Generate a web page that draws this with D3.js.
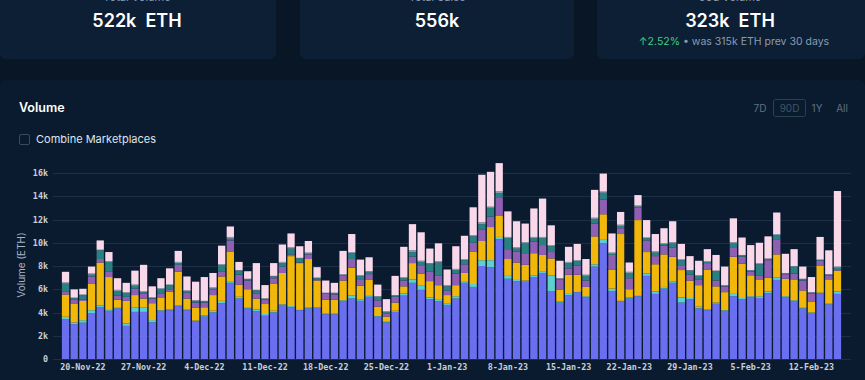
<!DOCTYPE html>
<html>
<head>
<meta charset="utf-8">
<script src="https://cdn.jsdelivr.net/npm/d3@7"></script>
<style>
  html, body { margin: 0; padding: 0; background: #081626; }
  svg { display: block; }
</style>
</head>
<body>
<svg id="chart" width="865" height="380"></svg>
<script>
// ---- data (k ETH per day, stacked bottom to top) ----
const startDate = "2022-11-18";
const dayCount = 90;
const seriesNames = ["Blur", "Sudoswap", "OpenSea", "X2Y2", "LooksRare", "Element", "Other"];
const seriesColors = ["#6a6ff0", "#5ccfd0", "#f1b70a", "#8f5fb3", "#2a7f80", "#8a9bb0", "#f9d8ea"];

const blue = [3.4,3.0,3.12,3.95,4.45,4.15,4.35,2.85,4.05,4.05,3.15,4.15,4.2,4.55,4.2,3.25,3.65,4.0,4.8,6.55,5.2,4.35,4.1,3.72,4.0,4.65,4.45,4.2,4.35,4.4,3.85,3.85,4.95,5.2,5.0,5.35,3.65,3.15,4.05,5.45,6.55,5.95,5.15,4.95,4.65,5.2,6.55,6.2,8.0,7.9,10.3,6.9,6.7,6.65,7.05,7.4,5.85,4.85,5.5,5.75,5.3,7.95,9.95,5.85,4.95,5.2,5.4,7.15,5.6,6.05,6.55,4.85,5.15,4.35,4.2,4.75,4.15,5.4,5.15,5.3,5.25,5.65,6.8,5.3,4.95,4.35,3.95,5.65,4.7,5.6];
const cyan = [0.23,0.15,0.22,0.25,0.15,0.15,0.05,0.2,0.4,0.4,0.2,0.05,0.05,0.05,0.05,0.05,0.1,0.15,0.2,0.15,0.15,0.05,0.15,0.15,0.15,0.05,0.1,0.1,0.1,0.05,0.05,0.05,0.1,0.25,0.1,0.15,0.05,0.05,0.1,0.2,0.3,0.4,0.15,0.2,0.1,0.2,0.15,0.25,0.5,0.6,0.2,0.25,0.1,0.1,0.15,0.1,1.35,0.1,0.1,0.1,0.1,0.2,0.3,0.2,0.05,0.1,0.1,0.2,0.2,0.15,0.1,0.45,0.1,0.15,0.05,0.1,0.05,0.2,0.1,0.1,0.15,0.15,0.2,0.1,0.1,0.05,0.05,0.05,0.1,0.2];
const yellow = [1.92,1.63,1.65,2.3,3.7,2.75,0.7,1.95,1.05,0.75,1.45,1.1,1.55,2.9,0.95,1.1,0.7,1.35,2.1,2.55,1.05,1.6,0.95,0.86,2.35,2.7,4.3,3.95,4.15,2.3,1.2,1.2,1.7,2.4,1.2,1.3,0.8,0.45,0.7,0.6,1.4,1.0,1.4,1.2,0.75,0.95,0.7,2.8,1.65,2.85,1.85,1.45,1.5,1.35,1.9,1.45,1.45,1.0,1.65,1.4,0.8,2.4,2.2,1.65,5.75,0.7,6.45,1.85,2.35,2.8,2.15,2.35,1.5,1.85,3.45,1.4,1.55,3.2,2.95,1.8,1.45,1.2,2.0,1.5,1.8,1.5,0.95,2.35,2.05,1.8];
const purple = [0.23,0.35,0.1,0.6,0.3,0.45,0.35,0.35,0.55,0.4,0.4,0.35,0.15,0.6,0.5,0.45,0.4,0.45,0.4,0.95,0.85,0.75,0.4,0.4,0.45,0.55,0.15,0.05,0.4,0.1,0.5,0.45,0.4,0.75,0.5,0.5,0.55,0.25,0.5,0.5,0.55,0.65,0.8,0.8,0.4,1.0,0.75,0.75,1.0,0.9,1.5,0.85,0.95,1.0,1.0,0.85,0.55,0.85,0.55,0.8,0.55,1.1,1.25,1.25,0.5,0.95,1.05,1.0,0.7,0.75,0.8,0.35,0.5,0.5,0.55,0.5,0.5,0.75,0.6,0.3,0.35,1.5,1.3,0.4,0.5,0.85,0.65,0.4,0.35,0.05];
const teal = [0.7,0.1,0.4,0.15,0.75,0.85,0.4,0.3,0.25,0.15,0.05,0.35,0.4,0.15,0.1,0.15,0.1,0.1,0.55,0.15,0.35,0.1,0.3,0.05,0.15,0.3,0.5,0.35,0.05,0.1,0.05,0.1,0.05,0.5,0.35,0.2,0.3,0.15,0.1,0.2,0.4,0.35,0.7,1.15,0.35,0.3,0.35,0.55,0.45,0.75,0.4,0.95,0.25,0.85,0.3,0.6,0.5,0.1,0.45,0.35,0.4,0.4,0.6,0.1,0.2,0.45,0.1,0.2,0.3,0.15,0.35,0.5,0.35,0.3,0.1,0.8,0.05,0.4,0.1,0.1,0.95,0.1,0.35,0.05,0.6,0.1,0.1,0.05,0.05,0.2];
const grey = [0.1,0.05,0.05,0.1,0.05,0.05,0.1,0.1,0.1,0.1,0.05,0.1,0.05,0.1,0.1,0.05,0.05,0.1,0.1,0.15,0.05,0.05,0.05,0.03,0.05,0.1,0.1,0.05,0.1,0.05,0.05,0.05,0.1,0.1,0.05,0.05,0.05,0.05,0.05,0.1,0.15,0.1,0.05,0.1,0.1,0.1,0.1,0.1,0.15,0.1,0.2,0.1,0.1,0.1,0.1,0.1,0.1,0.05,0.1,0.1,0.1,0.1,0.1,0.1,0.1,0.1,0.1,0.05,0.1,0.05,0.1,0.1,0.05,0.05,0.05,0.05,0.05,0.1,0.05,0.05,0.1,0.05,0.1,0.05,0.05,0.05,0.05,0.05,0.05,0.1];
const pink = [0.92,0.71,0.5,0.6,0.8,0.8,1.0,0.8,1.2,2.25,0.95,0.85,1.4,0.95,1.2,1.6,2.05,1.25,1.6,0.9,0.7,0.65,2.3,1.15,1.1,1.5,1.2,1.0,1.0,0.9,1.05,0.85,2.0,1.55,1.35,1.2,1.0,1.05,1.65,2.6,2.25,2.45,1.25,1.55,1.35,1.95,2.0,2.4,4.1,3.0,2.4,2.2,2.25,1.6,2.45,3.3,1.7,1.5,1.3,1.4,1.35,2.4,1.55,1.65,1.1,0.8,0.9,1.5,1.5,1.3,1.8,1.3,1.2,1.25,1.05,1.35,1.6,2.05,1.5,2.15,1.75,1.9,1.85,1.65,1.45,1.05,1.3,1.95,2.05,6.5];
const seriesValues = [blue, cyan, yellow, purple, teal, grey, pink];

const yTicks = [0, 2, 4, 6, 8, 10, 12, 14, 16];
const xTickLabels = ["20-Nov-22","27-Nov-22","4-Dec-22","11-Dec-22","18-Dec-22","25-Dec-22","1-Jan-23","8-Jan-23","15-Jan-23","22-Jan-23","29-Jan-23","5-Feb-23","12-Feb-23"];

const cards = [
  {label: "Total Volume", value: "522k  ETH"},
  {label: "Total Sales", value: "556k"},
  {label: "30d Volume", value: "323k  ETH"}
];
const changePct = "2.52%";
const changeText = " \u2022 was 315k ETH prev 30 days";
const rangeButtons = ["7D", "90D", "1Y", "All"];

// ---- build ----
const svg = d3.select("#chart");
const W = 865, H = 380;
svg.append("rect").attr("width", W).attr("height", H).attr("fill", "#081626");

// top cards
const cardBoxes = [[0, 276], [300, 574], [597, 865]];
cards.forEach((c, i) => {
  const [x0, x1] = cardBoxes[i];
  svg.append("rect").attr("x", x0).attr("y", -10).attr("width", x1 - x0).attr("height", 69)
    .attr("rx", 6).attr("fill", "#0d1f34");
  const cx = (x0 + x1) / 2 + (i === 1 ? 0 : -1);
  svg.append("text").attr("x", cx).attr("y", 1).attr("text-anchor", "middle")
    .attr("font-family", "Inter, sans-serif").attr("font-size", 11).attr("fill", "#8b9bb0")
    .text(c.label);
  svg.append("text").attr("x", cx).attr("y", 27).attr("text-anchor", "middle")
    .attr("font-family", "Inter, sans-serif").attr("font-weight", 600).attr("font-size", 18)
    .attr("fill", "#ffffff").attr("xml:space", "preserve").style("white-space", "pre")
    .text(c.value);
});
const sub = svg.append("text").attr("x", 734).attr("y", 45).attr("text-anchor", "middle")
  .attr("font-family", "Inter, sans-serif").attr("font-size", 10.5).style("white-space", "pre");
sub.append("tspan").attr("fill", "#3fcf86").text("\u2191" + changePct);
sub.append("tspan").attr("fill", "#8b9bb0").text(changeText);

// chart panel
svg.append("rect").attr("x", 0).attr("y", 80).attr("width", W).attr("height", 310)
  .attr("rx", 6).attr("fill", "#0b1b2f");

svg.append("text").attr("x", 19).attr("y", 112)
  .attr("font-family", "Inter, sans-serif").attr("font-weight", 600).attr("font-size", 12.5)
  .attr("fill", "#ffffff").text("Volume");

svg.append("rect").attr("x", 19.5).attr("y", 134.5).attr("width", 10).attr("height", 10)
  .attr("rx", 1.5).attr("fill", "none").attr("stroke", "#3a4b5e").attr("stroke-width", 1);
svg.append("text").attr("x", 36).attr("y", 143)
  .attr("font-family", "Inter, sans-serif").attr("font-size", 11)
  .attr("fill", "#dfe5ec").text("Combine Marketplaces");

// range buttons
const btnX = [760, 789.5, 817, 842];
rangeButtons.forEach((b, i) => {
  if (b === "90D") {
    svg.append("rect").attr("x", 773.5).attr("y", 99.5).attr("width", 32).attr("height", 17)
      .attr("rx", 2).attr("fill", "#0b1b2f").attr("stroke", "#24434c");
  }
  svg.append("text").attr("x", btnX[i]).attr("y", 112).attr("text-anchor", "middle")
    .attr("font-family", "Inter, sans-serif").attr("font-size", 10)
    .attr("fill", b === "90D" ? "#3e5666" : "#5f7085").text(b);
});

// scales
const dates = d3.timeDay.range(d3.timeParse("%Y-%m-%d")(startDate),
  d3.timeDay.offset(d3.timeParse("%Y-%m-%d")(startDate), dayCount));
const fmt = d3.timeFormat("%-d-%b-%y");
const cats = dates.map(fmt);

const x = d3.scaleBand().domain(cats).range([61.2, 841.8]).paddingInner(0.16).paddingOuter(0.08);
const y = d3.scaleLinear().domain([0, 16]).range([359, 173]);

// gridlines
const grid = svg.append("g");
grid.selectAll("line").data(yTicks).join("line")
  .attr("x1", 53).attr("x2", 851)
  .attr("y1", d => Math.round(y(d)) + 0.5).attr("y2", d => Math.round(y(d)) + 0.5)
  .attr("stroke", "#1b2f45").attr("stroke-width", 1);

// y axis labels
const yAxis = d3.axisLeft(y).tickValues(yTicks).tickSize(0).tickPadding(0)
  .tickFormat(d => d === 0 ? "0" : d + "k");
const yg = svg.append("g").attr("transform", "translate(48,0)").call(yAxis);
yg.select(".domain").remove();
yg.selectAll("text").attr("font-family", "'DejaVu Sans Mono', monospace")
  .attr("font-weight", "bold").attr("font-size", 8.4).attr("fill", "#c7cfda");

svg.append("text").attr("transform", "translate(25,265) rotate(-90)")
  .attr("text-anchor", "middle").attr("font-family", "Inter, sans-serif")
  .attr("font-size", 10).attr("fill", "#a9b4c2").text("Volume (ETH)");

// stacked bars
const rows = cats.map((c, i) => {
  const r = {date: c};
  seriesNames.forEach((n, k) => r[n] = seriesValues[k][i]);
  return r;
});
const stack = d3.stack().keys(seriesNames)(rows);
const barsG = svg.append("g");
stack.forEach((layer, k) => {
  barsG.append("g").attr("fill", seriesColors[k])
    .selectAll("rect").data(layer).join("rect")
    .attr("x", d => x(d.data.date))
    .attr("width", x.bandwidth())
    .attr("y", d => y(d[1]))
    .attr("height", d => Math.max(0, y(d[0]) - y(d[1])));
});

// x axis labels
const xAxis = d3.axisBottom(x).tickValues(xTickLabels).tickSize(0).tickPadding(0);
const xg = svg.append("g").attr("transform", "translate(0,364)").call(xAxis);
xg.select(".domain").remove();
xg.selectAll("text").attr("dy", "0.71em").attr("font-family", "'DejaVu Sans Mono', monospace")
  .attr("font-weight", "bold").attr("font-size", 8.4).attr("fill", "#c7cfda");
</script>
</body>
</html>
